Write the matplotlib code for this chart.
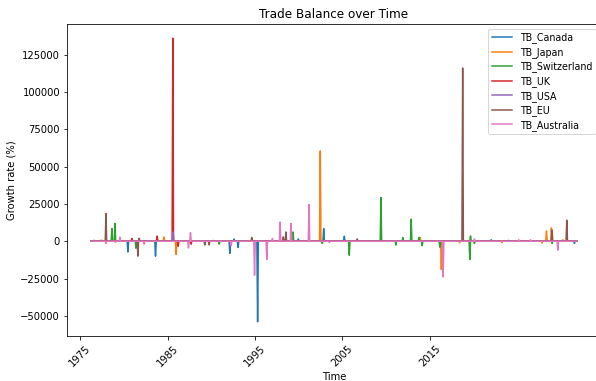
import matplotlib
matplotlib.use("Agg")
import matplotlib.pyplot as plt

# series span (decimal years) and spikes
t_start, t_end = 1976.26, 2031.80

canada_t = [1976.6, 1980.45, 1983.61, 1992.11, 1992.60, 1993.06, 1995.29, 1999.95, 2002.85, 2005.21, 2022.01, 2031.54]
canada_v = [600, -7200, -10000, -8200, 1500, -4200, -54000, 1500, 8500, 3300, 1000, -1500]

japan_t = [1977.4, 1984.57, 1985.97, 2002.46, 2013.86, 2016.31, 2018.4, 2023.26, 2027.84, 2028.34, 2028.90, 2030.20]
japan_v = [800, 2900, -8900, 60500, 2500, -19000, -1000, -1000, -1200, 6900, 8900, 1000]

swiss_t = [1978.62, 1978.97, 1981.37, 1990.89, 1999.34, 2002.69, 2005.78, 2009.40, 2011.11, 2011.91,
           2012.86, 2013.74, 2014.12, 2016.14, 2019.57, 2019.65, 2020.09, 2028.98]
swiss_v = [8500, 11900, -4700, -2000, 6200, -1500, -9400, 29300, -2600, 2400,
           14700, 2500, -3000, -4000, -12300, 3500, -1500, -1500]

uk_t = [1980.91, 1983.80, 1985.59, 1986.20, 1987.69]
uk_v = [1800, 3500, 136000, -3400, -2000]

usa_t = [1979.0, 1985.63, 1990.2, 2003.5, 2024.0]
usa_v = [-600, 6200, 500, -700, 600]

eu_t = [1977.94, 1981.59, 1981.74, 1989.25, 1989.74, 1994.62, 1998.23, 1998.53, 2006.69, 2018.75, 2028.98, 2030.66]
eu_v = [18500, -10000, 2000, -2500, -2500, 2500, 2900, 6200, 1500, 116000, 7500, 14100]

aus_t = [1977.95, 1979.54, 1982.31, 1987.38, 1987.61, 1992.26, 1994.94, 1996.34, 1996.98, 1997.86, 1999.11,
         2001.17, 2016.52, 2020.09, 2025.17, 2026.51, 2029.63]
aus_v = [-1500, 2700, -2000, -4500, 5800, -3000, -22800, -12300, 1800, 12900, 11900,
         24600, -23900, 1500, 1000, 1000, -6000]

series = [
    ("TB_Canada", canada_t, canada_v),
    ("TB_Japan", japan_t, japan_v),
    ("TB_Switzerland", swiss_t, swiss_v),
    ("TB_UK", uk_t, uk_v),
    ("TB_USA", usa_t, usa_v),
    ("TB_EU", eu_t, eu_v),
    ("TB_Australia", aus_t, aus_v),
]

year_ticks = [1975, 1985, 1995, 2005, 2015]


def spike_points(ts, vs, dt=1 / 12):
    xs, ys = [t_start], [0]
    for t, v in zip(ts, vs):
        xs += [t - dt, t, t + dt]
        ys += [0, v, 0]
    xs.append(t_end)
    ys.append(0)
    return xs, ys


def main():
    fig = plt.figure(figsize=(596 / 72, 381 / 72), dpi=72)
    ax = fig.add_axes([67 / 596, 45 / 381, 534 / 596, 312 / 381])

    for name, ts, vs in series:
        xs, ys = spike_points(ts, vs)
        ax.plot(xs, ys, label=name)

    ax.set_title("Trade Balance over Time")
    ax.set_xlabel("Time")
    ax.set_ylabel("Growth rate (%)")
    ax.set_xticks(year_ticks)
    ax.set_xticklabels([str(y) for y in year_ticks], rotation=45)
    ax.legend(loc="upper right", fontsize=9.5, handlelength=2.2, labelspacing=0.38)

    fig.savefig("out.png", dpi=72)


if __name__ == '__main__':
    main()
